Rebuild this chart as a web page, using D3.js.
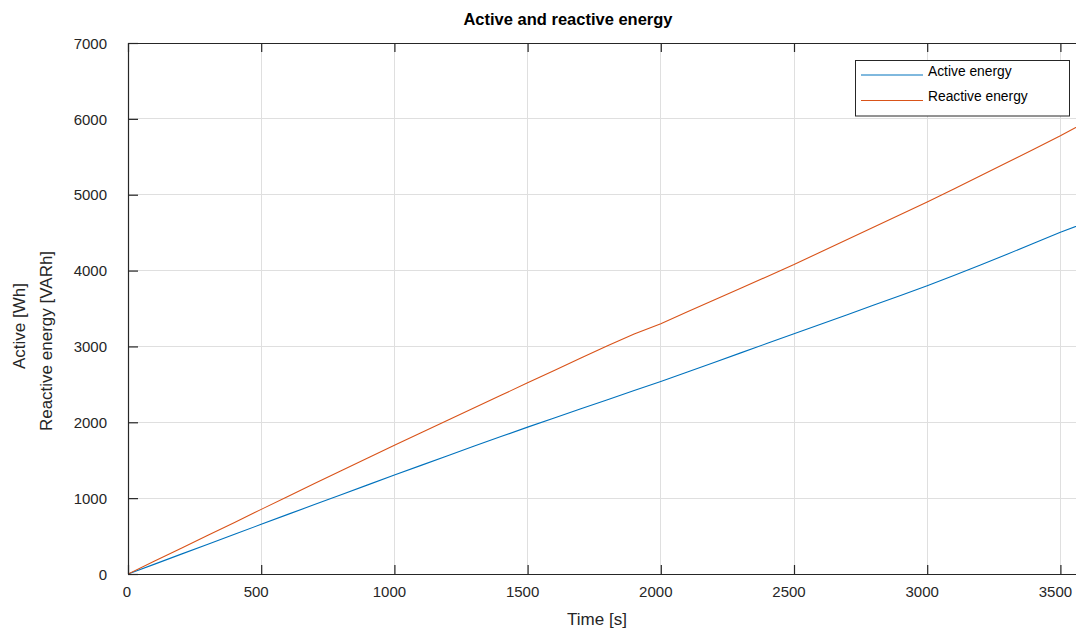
<!DOCTYPE html>
<html>
<head>
<meta charset="utf-8">
<script src="https://cdn.jsdelivr.net/npm/d3@7"></script>
<style>
  html, body { margin: 0; padding: 0; background: #fff; overflow: hidden; }
  svg { display: block; font-family: "Liberation Sans", Arial, Helvetica, sans-serif; }
</style>
</head>
<body>
<svg id="chart" width="1076" height="628"></svg>
<script>
const timeS = [0,100,200,300,400,500,600,700,800,900,1000,1100,1200,1300,1400,1500,1600,1700,1800,1900,2000,2100,2200,2300,2400,2500,2600,2700,2800,2900,3000,3100,3200,3300,3400,3500,3600];
const activeEnergy = [0,130,262,393,524,655,786,915,1045,1175,1305,1432,1559,1686,1812,1936,2057,2178,2298,2418,2537,2663,2789,2915,3041,3167,3292,3418,3545,3672,3800,3935,4074,4215,4360,4504,4640];
const reactiveEnergy = [0,170,340,510,680,852,1022,1192,1362,1530,1698,1862,2026,2191,2356,2520,2684,2848,3010,3165,3300,3456,3612,3768,3923,4079,4245,4410,4575,4740,4905,5075,5250,5425,5600,5777,5965];
const xTicks = [0,500,1000,1500,2000,2500,3000,3500];
const yTicks = [0,1000,2000,3000,4000,5000,6000,7000];
const seriesNames = ["Active energy","Reactive energy"];
const seriesColors = ["#0072BD","#D95319"];

(function () {
const svg = d3.select("#chart");
const pLeft = 128, pTop = 43, pBottom = 574;
const pxPer500 = 133.2;
const pRight = pLeft + 7.2 * pxPer500;

const x = d3.scaleLinear().domain([0, 3600]).range([pLeft, pRight]);
const y = d3.scaleLinear().domain([0, 7000]).range([pBottom, pTop]);
const axisColor = "#262626";
const fmt = d3.format("d");

// grid
const grid = svg.append("g");
grid.selectAll("line.gx").data(xTicks.slice(1)).join("line")
  .attr("x1", d => x(d)).attr("x2", d => x(d))
  .attr("y1", pTop).attr("y2", pBottom)
  .attr("stroke", "#dfdfdf").attr("stroke-width", 1).attr("shape-rendering", "crispEdges");
grid.selectAll("line.gy").data(yTicks.slice(1, -1)).join("line")
  .attr("x1", pLeft).attr("x2", pRight)
  .attr("y1", d => y(d)).attr("y2", d => y(d))
  .attr("stroke", "#dfdfdf").attr("stroke-width", 1).attr("shape-rendering", "crispEdges");

// clip
svg.append("clipPath").attr("id", "clip").append("rect")
  .attr("x", pLeft).attr("y", pTop).attr("width", pRight - pLeft).attr("height", pBottom - pTop);

const data = [activeEnergy, reactiveEnergy];
const line = d3.line().x((d, i) => x(timeS[i])).y(d => y(d));
svg.append("g").attr("clip-path", "url(#clip)")
  .selectAll("path").data(data).join("path")
  .attr("d", d => line(d))
  .attr("fill", "none")
  .attr("stroke", (d, i) => seriesColors[i])
  .attr("stroke-width", 1.1);

// axes
const xAxis = d3.axisBottom(x).tickValues(xTicks).tickFormat(fmt).tickSizeInner(-9).tickSizeOuter(0).tickPadding(18);
const gx = svg.append("g").attr("transform", `translate(0,${pBottom})`).call(xAxis);
const xTop = d3.axisTop(x).tickValues(xTicks).tickSizeInner(-9).tickSizeOuter(0).tickFormat("");
const gxt = svg.append("g").attr("transform", `translate(0,${pTop})`).call(xTop);
const yAxis = d3.axisLeft(y).tickValues(yTicks).tickFormat(fmt).tickSizeInner(-10).tickSizeOuter(0).tickPadding(21);
const gy = svg.append("g").attr("transform", `translate(${pLeft},0)`).call(yAxis);

[gx, gxt, gy].forEach(g => {
  g.select(".domain").attr("stroke", axisColor).attr("stroke-width", 1.2);
  g.selectAll(".tick line").attr("stroke", axisColor).attr("stroke-width", 1.2);
  g.selectAll(".tick text").attr("fill", axisColor).attr("font-size", "15px");
});
gy.selectAll(".tick text").attr("dy", "0.35em");
gx.selectAll(".tick text").attr("dy", "0.35em").attr("dx", d => d === 0 ? -1.5 : -5.5);

// labels
svg.append("text").attr("x", 568).attr("y", 25).attr("text-anchor", "middle")
  .attr("font-weight", "bold").attr("font-size", "16.5px").attr("fill", "#000")
  .text("Active and reactive energy");
svg.append("text").attr("x", 597).attr("y", 625).attr("text-anchor", "middle")
  .attr("font-size", "17px").attr("fill", axisColor).text("Time [s]");
svg.append("text").attr("transform", "translate(25,326) rotate(-90)").attr("text-anchor", "middle")
  .attr("font-size", "17px").attr("fill", axisColor).text("Active [Wh]");
svg.append("text").attr("transform", "translate(52,341) rotate(-90)").attr("text-anchor", "middle")
  .attr("font-size", "17px").attr("fill", axisColor).text("Reactive energy [VARh]");

// legend
const lg = svg.append("g");
lg.append("rect").attr("x", 855.5).attr("y", 60.5).attr("width", 214).attr("height", 55.5)
  .attr("fill", "#fff").attr("stroke", axisColor).attr("stroke-width", 1);
seriesNames.forEach((name, i) => {
  const yy = 75 + i * 25.5;
  lg.append("line").attr("x1", 861).attr("x2", 923).attr("y1", yy).attr("y2", yy)
    .attr("stroke", seriesColors[i]).attr("stroke-width", 1);
  lg.append("text").attr("x", 928).attr("y", yy).attr("dy", "0.05em")
    .attr("font-size", "13.8px").attr("fill", "#000").text(name);
});
})();
</script>
</body>
</html>
